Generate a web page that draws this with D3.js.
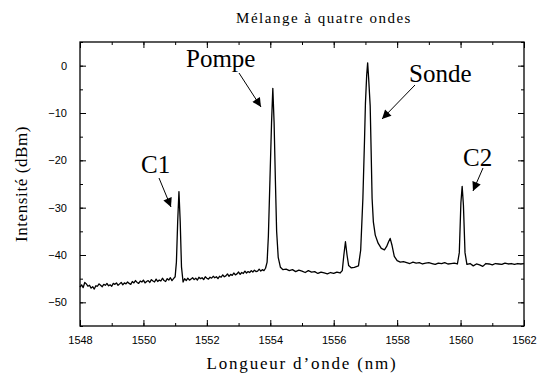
<!DOCTYPE html>
<html><head><meta charset="utf-8">
<script src="https://cdn.jsdelivr.net/npm/d3@7"></script>
<style>body{margin:0;background:#fff}svg{display:block}</style>
</head><body><svg id="c" width="538" height="379"></svg>
<script>
const titleText = "Mélange à quatre ondes";
const xLabel = "Longueur d\u2019onde (nm)";
const yLabel = "Intensité (dBm)";
const xTicks = [1548,1550,1552,1554,1556,1558,1560,1562];
const yTicks = [-50,-40,-30,-20,-10,0];
const xDomain = [1548,1562];
const yDomain = [-55,5];

// spectrum, [wavelength nm, intensity dBm]
const noiseBelowC1 = [
[1548.00,-46.8],[1548.05,-46.3],[1548.10,-46.9],[1548.15,-45.8],[1548.20,-46.1],[1548.25,-46.6],
[1548.30,-46.4],[1548.35,-47.0],[1548.40,-46.7],[1548.45,-47.2],[1548.50,-46.5],[1548.55,-46.6],
[1548.60,-46.1],[1548.65,-46.4],[1548.70,-46.7],[1548.75,-46.2],[1548.80,-46.4],[1548.85,-46.0],
[1548.90,-46.5],[1548.95,-46.3],[1549.00,-46.6],[1549.05,-46.0],[1549.10,-46.2],[1549.15,-45.9],
[1549.20,-46.4],[1549.25,-46.1],[1549.30,-45.8],[1549.35,-46.3],[1549.40,-45.9],[1549.45,-46.1],
[1549.50,-45.7],[1549.55,-46.0],[1549.60,-46.2],[1549.65,-45.6],[1549.70,-45.9],[1549.75,-45.4],
[1549.80,-45.8],[1549.85,-46.0],[1549.90,-45.5],[1549.95,-45.7],[1550.00,-45.3],[1550.05,-45.9],
[1550.10,-45.6],[1550.15,-45.4],[1550.20,-45.8],[1550.25,-45.2],[1550.30,-45.5],[1550.35,-45.7],
[1550.40,-45.1],[1550.45,-45.6],[1550.50,-45.3],[1550.55,-45.5],[1550.60,-44.9],[1550.65,-45.4],
[1550.70,-45.6],[1550.75,-45.0],[1550.80,-45.3],[1550.85,-44.8],[1550.90,-45.4],[1550.95,-45.0],
[1551.00,-44.6]
];
const peakC1 = [
[1551.04,-41.5],[1551.08,-33.0],[1551.12,-26.6],[1551.16,-33.0],[1551.20,-42.5],[1551.25,-45.7]
];
const noiseBelowPump = [
[1551.30,-45.0],[1551.35,-45.4],[1551.40,-44.9],[1551.45,-45.3],[1551.50,-45.1],[1551.55,-44.8],
[1551.60,-45.2],[1551.65,-44.9],[1551.70,-45.3],[1551.75,-44.7],[1551.80,-45.0],[1551.85,-44.8],
[1551.90,-45.2],[1551.95,-44.6],[1552.00,-44.9],[1552.05,-45.1],[1552.10,-44.7],[1552.15,-44.9],
[1552.20,-44.5],[1552.25,-44.8],[1552.30,-44.6],[1552.35,-45.0],[1552.40,-44.5],[1552.45,-44.7],
[1552.50,-44.2],[1552.55,-44.6],[1552.60,-44.4],[1552.65,-44.0],[1552.70,-44.5],[1552.75,-44.1],
[1552.80,-44.3],[1552.85,-43.8],[1552.90,-44.2],[1552.95,-44.0],[1553.00,-43.6],[1553.05,-44.1],
[1553.10,-43.7],[1553.15,-43.9],[1553.20,-43.4],[1553.25,-43.8],[1553.30,-43.5],[1553.35,-43.7],
[1553.40,-43.3],[1553.45,-43.6],[1553.50,-43.2],[1553.55,-43.5],[1553.60,-43.4],[1553.65,-43.0],
[1553.70,-43.4],[1553.75,-43.1],[1553.80,-43.3],[1553.85,-42.8],[1553.90,-41.5]
];
const peakPump = [
[1553.94,-36.0],[1553.99,-24.0],[1554.04,-12.0],[1554.08,-4.8],[1554.12,-12.0],[1554.16,-24.0],
[1554.20,-35.0],[1554.25,-40.5],[1554.32,-42.6]
];
const noiseMiddle = [
[1554.40,-43.1],[1554.50,-43.0],[1554.60,-43.3],[1554.70,-43.1],[1554.80,-43.5],[1554.90,-43.2],
[1555.00,-43.4],[1555.10,-43.7],[1555.20,-43.3],[1555.30,-43.6],[1555.40,-43.5],[1555.50,-43.9],
[1555.60,-43.6],[1555.70,-43.8],[1555.80,-44.0],[1555.90,-43.7],[1556.00,-43.9],[1556.10,-43.6],
[1556.20,-43.8],[1556.27,-43.3]
];
const peakSideLeft = [
[1556.32,-40.0],[1556.37,-37.2],[1556.42,-40.0],[1556.47,-42.2],[1556.55,-42.7],[1556.65,-42.6],
[1556.78,-42.3]
];
const peakProbe = [
[1556.85,-39.0],[1556.92,-28.0],[1556.97,-16.0],[1557.00,-8.0],[1557.04,-2.0],[1557.07,0.6],
[1557.10,-2.5],[1557.15,-8.5],[1557.18,-18.0],[1557.21,-28.0],[1557.25,-33.0],[1557.31,-35.8],
[1557.40,-37.5],[1557.50,-38.6],[1557.60,-38.9]
];
const peakSideRight = [
[1557.67,-38.2],[1557.73,-37.2],[1557.78,-36.5],[1557.84,-38.0],[1557.91,-40.3]
];
const noiseRight = [
[1558.00,-41.2],[1558.10,-41.5],[1558.20,-41.4],[1558.30,-41.6],[1558.40,-41.8],[1558.50,-41.5],
[1558.60,-41.7],[1558.70,-41.6],[1558.80,-41.9],[1558.90,-41.7],[1559.00,-41.6],[1559.10,-41.8],
[1559.20,-42.0],[1559.30,-41.7],[1559.40,-41.8],[1559.50,-41.6],[1559.60,-41.9],[1559.70,-41.8],
[1559.80,-41.7],[1559.90,-41.9],[1559.96,-39.5]
];
const peakC2 = [
[1560.01,-29.0],[1560.05,-25.5],[1560.09,-29.5],[1560.14,-39.5]
];
const noiseEnd = [
[1560.20,-42.0],[1560.30,-41.8],[1560.40,-42.3],[1560.50,-41.9],[1560.60,-42.1],[1560.70,-42.4],
[1560.80,-41.8],[1560.90,-41.9],[1561.00,-42.1],[1561.10,-41.8],[1561.20,-41.9],[1561.30,-42.0],
[1561.40,-41.7],[1561.50,-41.9],[1561.60,-41.8],[1561.70,-42.0],[1561.80,-41.8],[1561.90,-41.9],
[1562.00,-41.8]
];

const annotations = [
  {label:"Pompe", x:186, y:67, ax1:239, ay1:73, ax2:261, ay2:107},
  {label:"Sonde", x:409, y:82, ax1:415, ay1:85, ax2:382, ay2:119},
  {label:"C1",    x:141, y:173, ax1:159, ay1:178, ax2:171, ay2:207},
  {label:"C2",    x:463, y:166, ax1:483, ay1:168, ax2:473, ay2:191}
];

const W = 538, H = 379;
const m = {l:80, t:42, r:14, b:53};
const svg = d3.select("#c");
const x = d3.scaleLinear().domain(xDomain).range([m.l, W - m.r]);
const y = d3.scaleLinear().domain(yDomain).range([H - m.b, m.t]);
const serif = "Liberation Serif";
const sans = "Liberation Sans";

const minorX = d3.range(xDomain[0], xDomain[1] + 0.001, 1);
const minorY = d3.range(yDomain[0], yDomain[1] + 0.001, 5);

function styleAxis(g){ g.select(".domain").remove(); g.selectAll("line").attr("stroke","#000").attr("stroke-width",1); g.selectAll("text").style("font-family",sans).style("font-size","11px").attr("fill","#000"); }

svg.append("g").attr("transform",`translate(0,${H-m.b})`)
  .call(d3.axisBottom(x).tickValues(minorX).tickSize(-3).tickFormat("")).call(styleAxis);
svg.append("g").attr("transform",`translate(0,${H-m.b})`)
  .call(d3.axisBottom(x).tickValues(xTicks).tickSize(-6).tickPadding(10).tickFormat(d3.format("d"))).call(styleAxis);
svg.append("g").attr("transform",`translate(0,${m.t})`)
  .call(d3.axisTop(x).tickValues(minorX).tickSize(-3).tickFormat("")).call(styleAxis);
svg.append("g").attr("transform",`translate(0,${m.t})`)
  .call(d3.axisTop(x).tickValues(xTicks).tickSize(-6).tickFormat("")).call(styleAxis);
svg.append("g").attr("transform",`translate(${m.l},0)`)
  .call(d3.axisLeft(y).tickValues(minorY).tickSize(-3).tickFormat("")).call(styleAxis);
svg.append("g").attr("transform",`translate(${m.l},0)`)
  .call(d3.axisLeft(y).tickValues(yTicks).tickSize(-6).tickPadding(13).tickFormat(d3.format("d"))).call(styleAxis);
svg.append("g").attr("transform",`translate(${W-m.r},0)`)
  .call(d3.axisRight(y).tickValues(minorY).tickSize(-3).tickFormat("")).call(styleAxis);
svg.append("g").attr("transform",`translate(${W-m.r},0)`)
  .call(d3.axisRight(y).tickValues(yTicks).tickSize(-6).tickFormat("")).call(styleAxis);

svg.append("rect").attr("x",m.l).attr("y",m.t).attr("width",W-m.l-m.r).attr("height",H-m.t-m.b)
  .attr("fill","none").attr("stroke","#000").attr("stroke-width",1.3);

const data = [].concat(noiseBelowC1, peakC1, noiseBelowPump, peakPump, noiseMiddle,
  peakSideLeft, peakProbe, peakSideRight, noiseRight, peakC2, noiseEnd);
svg.append("path").datum(data)
  .attr("d", d3.line().x(d=>x(d[0])).y(d=>y(d[1])))
  .attr("fill","none").attr("stroke","#000").attr("stroke-width",1.3).attr("stroke-linejoin","round");

svg.append("defs").append("marker").attr("id","ah").attr("viewBox","0 0 10 10")
  .attr("refX",10).attr("refY",5).attr("markerWidth",10).attr("markerHeight",9)
  .attr("markerUnits","userSpaceOnUse").attr("orient","auto")
  .append("path").attr("d","M0,0L10,5L0,10Z").attr("fill","#000");

annotations.forEach(a=>{
  svg.append("text").attr("x",a.x).attr("y",a.y).text(a.label)
    .style("font-family",serif).style("font-size","25px").attr("fill","#000");
  svg.append("line").attr("x1",a.ax1).attr("y1",a.ay1).attr("x2",a.ax2).attr("y2",a.ay2)
    .attr("stroke","#000").attr("stroke-width",1).attr("marker-end","url(#ah)");
});

svg.append("text").attr("x",324).attr("y",23).attr("text-anchor","middle")
  .style("font-family",serif).style("font-size","15px").style("letter-spacing","1.5px").text(titleText);
svg.append("text").attr("x",302).attr("y",369).attr("text-anchor","middle")
  .style("font-family",serif).style("font-size","17px").style("letter-spacing","1.8px").text(xLabel);
svg.append("text").attr("transform",`translate(27,${(m.t+H-m.b)/2}) rotate(-90)`).attr("text-anchor","middle")
  .style("font-family",serif).style("font-size","17px").style("letter-spacing","0.6px").text(yLabel);
</script></body></html>
